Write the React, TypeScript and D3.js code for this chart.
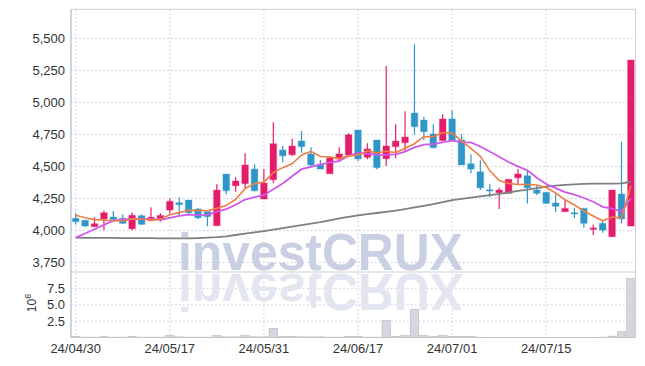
import React from 'react';
import * as d3 from 'd3';

const dates = [
  '24/04/30','24/05/02','24/05/03','24/05/07','24/05/08','24/05/09','24/05/10','24/05/13','24/05/14','24/05/16',
  '24/05/17','24/05/20','24/05/21','24/05/22','24/05/23','24/05/24','24/05/27','24/05/28','24/05/29','24/05/30',
  '24/05/31','24/06/03','24/06/04','24/06/05','24/06/07','24/06/10','24/06/11','24/06/12','24/06/13','24/06/14',
  '24/06/17','24/06/18','24/06/19','24/06/20','24/06/21','24/06/24','24/06/25','24/06/26','24/06/27','24/06/28',
  '24/07/01','24/07/02','24/07/03','24/07/04','24/07/05','24/07/08','24/07/09','24/07/10','24/07/11','24/07/12',
  '24/07/15','24/07/16','24/07/17','24/07/18','24/07/19','24/07/22','24/07/23','24/07/24','24/07/25','24/07/26',
];

const opens = [
  4095,4080,4030,4090,4105,4095,4014,4116,4078,4087,
  4160,4217,4238,4168,4147,4038,4441,4350,4366,4480,
  4246,4397,4629,4592,4699,4598,4517,4444,4558,4590,
  4785,4572,4707,4561,4655,4686,4918,4863,4754,4702,
  4871,4707,4522,4459,4318,4295,4291,4412,4428,4316,
  4298,4215,4147,4139,4173,4009,4056,3952,4285,4035,
];
const highs = [
  4134,4082,4103,4155,4152,4127,4140,4125,4181,4135,
  4250,4260,4238,4175,4147,4361,4441,4416,4603,4517,
  4480,4845,4660,4717,4777,4650,4551,4577,4650,4759,
  4785,4681,4707,5286,4830,4931,5455,4889,4830,4908,
  4939,4752,4595,4548,4361,4334,4400,4480,4473,4355,
  4298,4283,4246,4178,4173,4048,4082,4316,4694,5332,
];
const lows = [
  4048,4030,4028,4002,4084,4050,4005,4043,4073,4068,
  4135,4113,4125,4090,4033,4035,4283,4303,4330,4305,
  4246,4369,4533,4582,4608,4504,4480,4444,4537,4590,
  4543,4556,4478,4504,4564,4621,4751,4705,4642,4702,
  4702,4512,4447,4316,4259,4168,4291,4361,4212,4277,
  4207,4145,4147,4095,4022,3965,3983,3952,4056,4035,
];
const closes = [
  4069,4035,4053,4139,4086,4056,4119,4048,4104,4118,
  4228,4202,4139,4100,4108,4316,4311,4387,4512,4311,
  4371,4678,4584,4660,4655,4512,4480,4566,4598,4748,
  4559,4637,4491,4660,4699,4730,4811,4772,4647,4871,
  4702,4512,4480,4334,4311,4316,4400,4441,4334,4291,
  4212,4189,4173,4129,4056,4020,4004,4316,4090,5332,
];
const ma5 = [
  4120,4100,4085,4082,4076,4074,4091,4090,4083,4089,
  4123,4140,4158,4157,4155,4173,4195,4244,4327,4367,
  4378,4452,4491,4521,4590,4618,4578,4575,4562,4581,
  4590,4622,4607,4619,4609,4643,4678,4734,4732,4766,
  4761,4701,4642,4580,4468,4391,4368,4360,4360,4356,
  4336,4293,4240,4199,4152,4113,4076,4105,4097,4352,
];
const ma10 = [
  3944,3977,4010,4044,4077,4087,4090,4090,4089,4083,
  4099,4115,4124,4120,4122,4148,4167,4201,4242,4261,
  4276,4323,4368,4424,4479,4498,4515,4533,4542,4585,
  4604,4600,4591,4591,4595,4617,4650,4671,4675,4688,
  4702,4690,4688,4656,4617,4576,4535,4501,4470,4412,
  4363,4331,4300,4280,4254,4225,4185,4172,4148,4252,
];
const ma60 = [
  3944,3943,3943,3942,3942,3941,3941,3940,3940,3939,
  3938,3938,3939,3941,3944,3948,3955,3965,3976,3986,
  3996,4007,4018,4030,4042,4054,4066,4080,4094,4107,
  4119,4128,4137,4146,4155,4167,4180,4193,4207,4222,
  4238,4248,4257,4266,4276,4286,4297,4309,4320,4332,
  4343,4351,4357,4361,4364,4366,4367,4367,4368,4381,
];
const volumes = [
  0.15,0.05,0.05,0.15,0.05,0.05,0.15,0.05,0.05,0.05,
  0.3,0.1,0.05,0.05,0.05,0.3,0.1,0.1,0.3,0.1,
  0.1,1.4,0.15,0.15,0.1,0.1,0.1,0.05,0.05,0.15,
  0.15,0.05,0.05,2.6,0.15,0.3,4.3,0.3,0.15,0.3,
  0.15,0.15,0.15,0.05,0.03,0.03,0.03,0.03,0.03,0.03,
  0.03,0.03,0.03,0.03,0.03,0.03,0.05,0.2,0.9,9.0,
];
const priceTicks = [3750, 4000, 4250, 4500, 4750, 5000, 5250, 5500];
const volTicks = [2.5, 5.0, 7.5];
const xTickDates = ['24/04/30', '24/05/17', '24/05/31', '24/06/17', '24/07/01', '24/07/15'];

const W = 645;
const Hh = 366;
const LEFT = 71;
const RIGHT = 635.6;
const TOP = 9.3;
const MAIN_BOTTOM = 272;
const VOL_BOTTOM = 337.5;

const UP = '#e31c6b';
const DOWN = '#2e96c8';
const GRID = '#c5c9de';
const FONT = 'Liberation Sans, Arial, sans-serif';

export default function App() {
  const x = d3.scaleBand<string>().domain(dates).range([LEFT, RIGHT]).padding(0);
  const bw = x.bandwidth();
  const cx = (i: number) => (x(dates[i]) as number) + bw / 2;
  const y = d3.scaleLinear().domain([3676, 5728]).range([MAIN_BOTTOM, TOP]);
  const yv = d3.scaleLinear().domain([0, 10]).range([VOL_BOTTOM, MAIN_BOTTOM]);
  const line = d3
    .line<number>()
    .x((_, i) => cx(i))
    .y((d) => y(d))
    .curve(d3.curveLinear);
  const fmt = d3.format(',');
  const bodyW = 6.6;

  return (
    <svg width={W} height={Hh} style={{ position: 'absolute', left: 0, top: 0, background: '#fff' }}>
      <defs>
        <clipPath id="mainClip">
          <rect x={LEFT} y={TOP} width={RIGHT - LEFT} height={MAIN_BOTTOM - TOP} />
        </clipPath>
        <clipPath id="volClip">
          <rect x={LEFT} y={MAIN_BOTTOM} width={RIGHT - LEFT} height={VOL_BOTTOM - MAIN_BOTTOM} />
        </clipPath>
      </defs>

      {/* grid */}
      {priceTicks.map((t) => (
        <line key={'pg' + t} x1={LEFT} x2={RIGHT} y1={y(t)} y2={y(t)} stroke={GRID} strokeDasharray="1.5,2.5" strokeWidth={1} />
      ))}
      {volTicks.map((t) => (
        <line key={'vg' + t} x1={LEFT} x2={RIGHT} y1={yv(t)} y2={yv(t)} stroke={GRID} strokeDasharray="1.5,2.5" strokeWidth={1} />
      ))}
      {xTickDates.map((d) => (
        <line key={'xg' + d} x1={cx(dates.indexOf(d))} x2={cx(dates.indexOf(d))} y1={TOP} y2={VOL_BOTTOM} stroke={GRID} strokeDasharray="1.5,2.5" strokeWidth={1} />
      ))}

      {/* watermark */}
      <g clipPath="url(#mainClip)">
        <text x={178} y={270} fontFamily={FONT} fontWeight="bold" fontSize={52} fill="#c9d0e3" textLength={285} lengthAdjust="spacingAndGlyphs">
          investCRUX
        </text>
      </g>
      <g clipPath="url(#volClip)">
        <g transform={`translate(0,${2 * MAIN_BOTTOM}) scale(1,-1)`}>
          <text x={178} y={270} fontFamily={FONT} fontWeight="bold" fontSize={52} fill="#e3e6f0" textLength={285} lengthAdjust="spacingAndGlyphs">
            investCRUX
          </text>
        </g>
      </g>

      {/* volume */}
      <g clipPath="url(#volClip)">
        {volumes.map((v, i) => (
          <rect key={'v' + i} x={(x(dates[i]) as number) + 0.5} y={yv(v)} width={bw - 1} height={VOL_BOTTOM - yv(v)} fill="#d6d6de" stroke="#b8b8c2" strokeWidth={0.6} />
        ))}
      </g>

      {/* candles */}
      <g clipPath="url(#mainClip)">
        {dates.map((d, i) => {
          const up = closes[i] >= opens[i];
          const col = up ? UP : DOWN;
          const top = y(Math.max(opens[i], closes[i]));
          const bot = y(Math.min(opens[i], closes[i]));
          const h = Math.max(bot - top, 1.2);
          return (
            <g key={'c' + i}>
              <line x1={cx(i)} x2={cx(i)} y1={y(highs[i])} y2={y(lows[i])} stroke={col} strokeWidth={1.2} />
              <rect x={cx(i) - bodyW / 2} y={top} width={bodyW} height={h} fill={col} stroke={col} strokeOpacity={0.25} strokeWidth={1.4} />
            </g>
          );
        })}
        <path d={line(ma60) || ''} fill="none" stroke="#7f7f7f" strokeWidth={1.8} />
        <path d={line(ma10) || ''} fill="none" stroke="#cf58ea" strokeWidth={1.8} />
        <path d={line(ma5) || ''} fill="none" stroke="#ef7f47" strokeWidth={1.6} />
      </g>

      {/* frame */}
      <line x1={LEFT} x2={RIGHT} y1={TOP} y2={TOP} stroke="#cfcfd4" strokeWidth={1} />
      <line x1={RIGHT} x2={RIGHT} y1={TOP} y2={VOL_BOTTOM} stroke="#cfcfd4" strokeWidth={1} />
      <line x1={LEFT} x2={RIGHT} y1={MAIN_BOTTOM} y2={MAIN_BOTTOM} stroke="#cfcfd4" strokeWidth={1} />
      <line x1={LEFT} x2={RIGHT} y1={VOL_BOTTOM} y2={VOL_BOTTOM} stroke="#c4c4cc" strokeWidth={1.2} />
      <line x1={LEFT} x2={LEFT} y1={TOP} y2={VOL_BOTTOM} stroke="#c4c4cc" strokeWidth={1.5} />

      {/* y labels */}
      {priceTicks.map((t) => (
        <text key={'pl' + t} x={65} y={y(t)} dy="0.36em" textAnchor="end" fontFamily={FONT} fontSize={13} fill="#333">
          {fmt(t)}
        </text>
      ))}
      {volTicks.map((t) => (
        <text key={'vl' + t} x={65} y={yv(t)} dy="0.36em" textAnchor="end" fontFamily={FONT} fontSize={13} fill="#333">
          {t.toFixed(1)}
        </text>
      ))}
      <text transform="translate(36,303) rotate(-90)" textAnchor="middle" fontFamily={FONT} fontSize={12} fill="#333">
        10<tspan dy="-5" fontSize={9}>6</tspan>
      </text>

      {/* x labels */}
      {xTickDates.map((d) => (
        <text key={'xl' + d} x={cx(dates.indexOf(d))} y={348} dy="0.36em" textAnchor="middle" fontFamily={FONT} fontSize={13} fill="#333">
          {d}
        </text>
      ))}
    </svg>
  );
}
